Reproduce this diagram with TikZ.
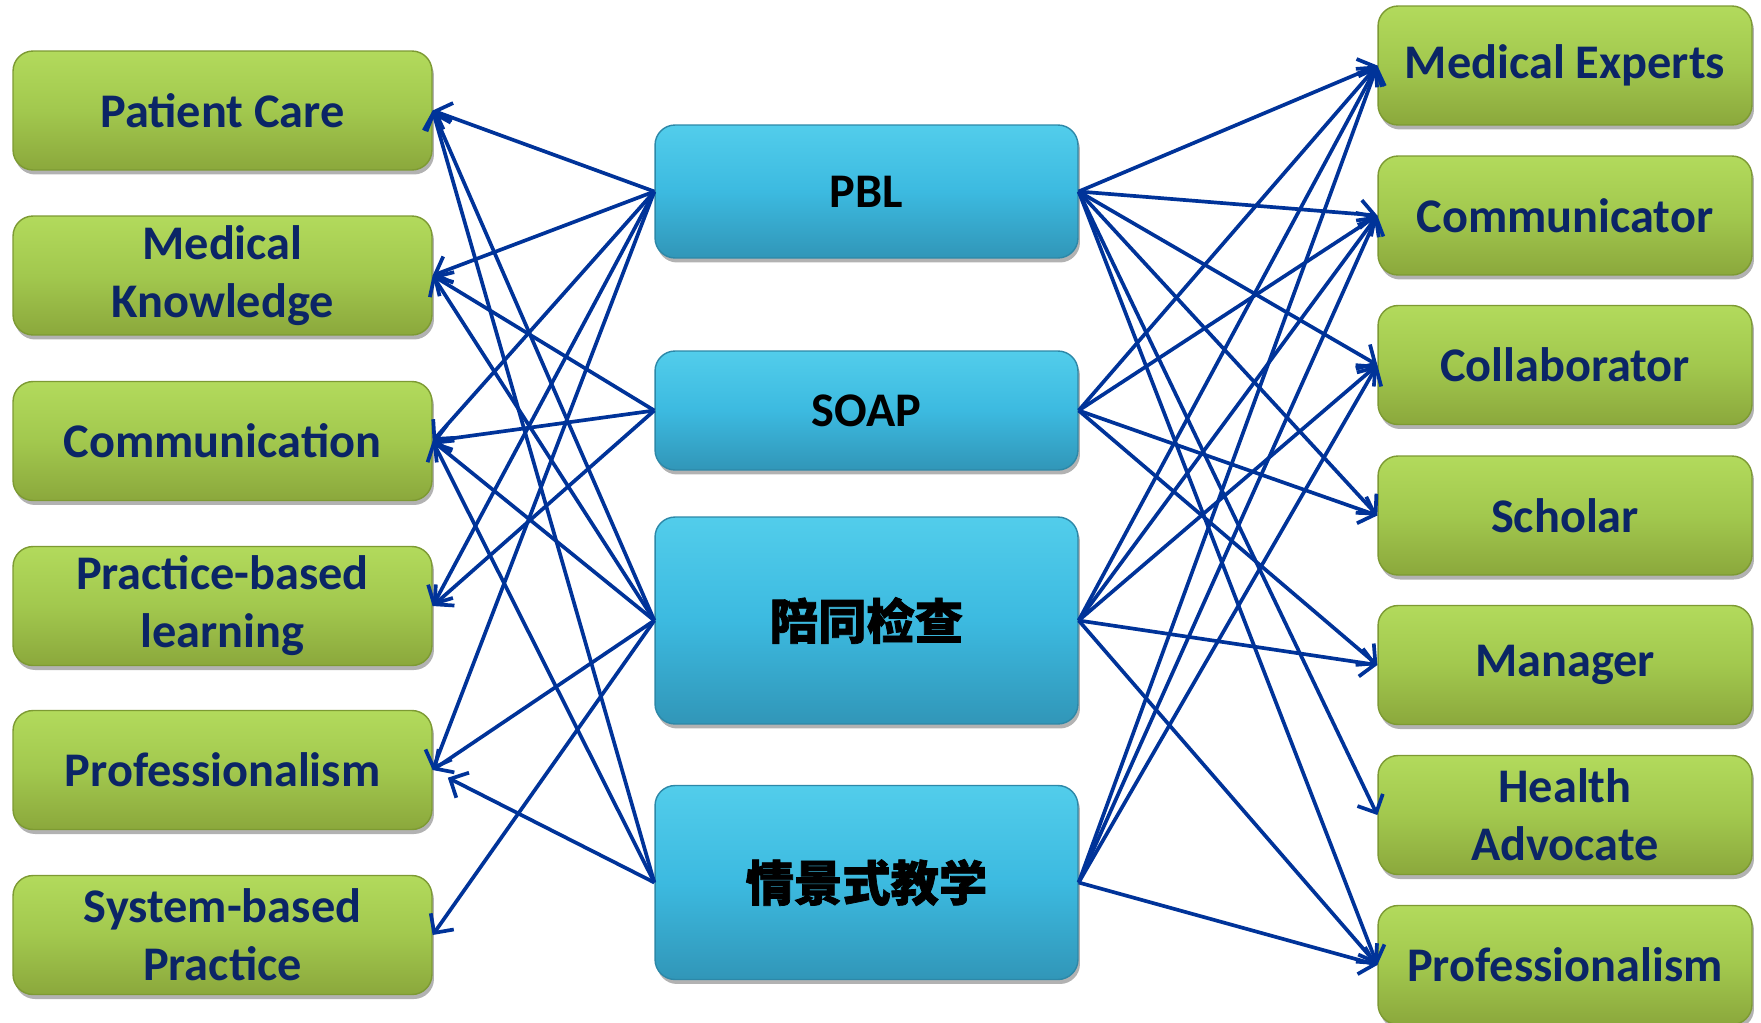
\documentclass[tikz,border=0pt]{standalone}
\usepackage{fontspec}
\setmainfont{Carlito}
\newfontfamily\cjk{Noto Sans CJK SC}[BoldFeatures={FakeBold=1.5}]
\usetikzlibrary{arrows.meta,shadows}
\definecolor{gtop}{HTML}{B2DA5C}
\definecolor{gmid}{HTML}{A2C84E}
\definecolor{gbot}{HTML}{8BA83C}
\definecolor{gborder}{HTML}{7D9A33}
\definecolor{btop}{HTML}{52CDEB}
\definecolor{bmid}{HTML}{3CBAE0}
\definecolor{bbot}{HTML}{3196B8}
\definecolor{bborder}{HTML}{2D88A8}
\definecolor{navy}{HTML}{0B2566}
\definecolor{arrowblue}{HTML}{003399}
\begin{document}
\begin{tikzpicture}[x=0.02cm,y=-0.02cm,
  basebox/.style={rounded corners=0.4cm, line width=0.8pt, inner sep=0pt, align=center,
    drop shadow={shadow xshift=0.04cm, shadow yshift=-0.09cm, opacity=0.3, fill=black}},
  gbox/.style={basebox, draw=gborder, top color=gtop, bottom color=gbot, middle color=gmid,
    minimum height=2.38cm, text=navy, font=\fontsize{27.5}{33}\selectfont\bfseries},
  lbox/.style={gbox, minimum width=8.38cm},
  rbox/.style={gbox, minimum width=7.48cm},
  cbox/.style={basebox, draw=bborder, top color=btop, bottom color=bbot, middle color=bmid,
    minimum width=8.46cm, text=black, font=\fontsize{27.5}{33}\selectfont\bfseries},
  arr/.style={draw=arrowblue, line width=2.1pt, -{Straight Barb[length=8pt,width=16pt]}}
]
\useasboundingbox (0,0) rectangle (1761,1022);
% left column
\node[lbox] (PC)   at (222.5,110.5) {Patient Care};
\node[lbox] (MK)   at (222.5,275.5) {Medical\\Knowledge};
\node[lbox] (CM)   at (222.5,441)   {Communication};
\node[lbox] (PBLL) at (222.5,606)   {Practice-based\\learning};
\node[lbox] (LPR)  at (222.5,770)   {Professionalism};
\node[lbox] (SBP)  at (222.5,935)   {System-based\\Practice};
% center column
\node[cbox, minimum height=2.66cm] (PBL)  at (866.5,191.5) {PBL};
\node[cbox, minimum height=2.38cm] (SOAP) at (866.5,410.5) {SOAP};
\node[cbox, minimum height=4.14cm] (PT)   at (866.5,620.5) {{\cjk\bfseries 陪同检查}};
\node[cbox, minimum height=3.88cm] (QJ)   at (866.5,882.5) {{\cjk\bfseries 情景式教学}};
% right column
\node[rbox] (ME)  at (1565,65.5)  {Medical Experts};
\node[rbox] (COM) at (1565,215.5) {Communicator};
\node[rbox] (COL) at (1565,365)   {Collaborator};
\node[rbox] (SCH) at (1565,515.5) {Scholar};
\node[rbox] (MAN) at (1565,665)   {Manager};
\node[rbox] (HA)  at (1565,815)   {Health\\Advocate};
\node[rbox] (RPR) at (1565,965)   {Professionalism};
% left connectors
\draw[arr] (PBL.west) -- (PC.east);
\draw[arr] (PBL.west) -- (MK.east);
\draw[arr] (PBL.west) -- (CM.east);
\draw[arr] (PBL.west) -- (PBLL.east);
\draw[arr] (PBL.west) -- (LPR.east);
\draw[arr] (SOAP.west) -- (MK.east);
\draw[arr] (SOAP.west) -- (CM.east);
\draw[arr] (SOAP.west) -- (PBLL.east);
\draw[arr] (PT.west) -- (PC.east);
\draw[arr] (PT.west) -- (MK.east);
\draw[arr] (PT.west) -- (CM.east);
\draw[arr] (PT.west) -- (LPR.east);
\draw[arr] (PT.west) -- (SBP.east);
\draw[arr] (QJ.west) -- (PC.east);
\draw[arr] (QJ.west) -- (CM.east);
\draw[arr, shorten >=0.34cm] (QJ.west) -- (LPR.east);
% right connectors
\draw[arr] (PBL.east) -- (ME.west);
\draw[arr] (PBL.east) -- (COM.west);
\draw[arr] (PBL.east) -- (COL.west);
\draw[arr] (PBL.east) -- (SCH.west);
\draw[arr] (PBL.east) -- (HA.west);
\draw[arr] (PBL.east) -- (RPR.west);
\draw[arr] (SOAP.east) -- (ME.west);
\draw[arr] (SOAP.east) -- (COM.west);
\draw[arr] (SOAP.east) -- (SCH.west);
\draw[arr] (SOAP.east) -- (MAN.west);
\draw[arr] (PT.east) -- (ME.west);
\draw[arr] (PT.east) -- (COM.west);
\draw[arr] (PT.east) -- (COL.west);
\draw[arr] (PT.east) -- (MAN.west);
\draw[arr] (PT.east) -- (RPR.west);
\draw[arr] (QJ.east) -- (ME.west);
\draw[arr] (QJ.east) -- (COM.west);
\draw[arr] (QJ.east) -- (COL.west);
\draw[arr] (QJ.east) -- (RPR.west);
\end{tikzpicture}
\end{document}
